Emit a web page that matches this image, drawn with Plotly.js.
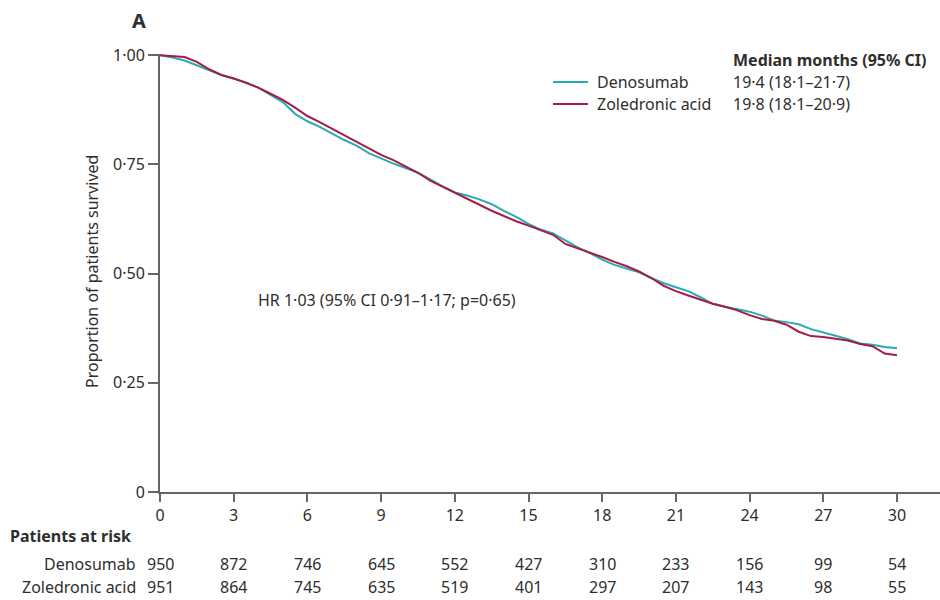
<!DOCTYPE html>
<html>
<head>
<meta charset="utf-8">
<script src="https://cdn.plot.ly/plotly-3.0.1.min.js"></script>
<style>html,body{margin:0;padding:0;background:#fff;}#chart{width:940px;height:600px;}</style>
</head>
<body>
<div id="chart"></div>
<script>
// Kaplan-Meier estimates (months, proportion surviving)
const months = [0,0.5,1,1.5,2,2.5,3,3.5,4,4.5,5,5.5,6,6.5,7,7.5,8,8.5,9,9.5,10,10.5,11,11.5,12,12.5,13,13.5,14,14.5,15,15.5,16,16.5,17,17.5,18,18.5,19,19.5,20,20.5,21,21.5,22,22.5,23,23.5,24,24.5,25,25.5,26,26.5,27,27.5,28,28.5,29,29.5,30];
const denosumab = [1.000,0.995,0.988,0.977,0.967,0.955,0.947,0.938,0.926,0.910,0.893,0.866,0.849,0.836,0.821,0.806,0.793,0.776,0.764,0.752,0.742,0.731,0.716,0.700,0.686,0.679,0.670,0.659,0.644,0.630,0.614,0.601,0.592,0.576,0.560,0.547,0.532,0.520,0.512,0.503,0.490,0.478,0.469,0.460,0.446,0.431,0.424,0.418,0.413,0.404,0.393,0.389,0.384,0.373,0.366,0.358,0.350,0.340,0.337,0.332,0.329];
const zoledronic = [1.000,0.998,0.996,0.985,0.968,0.955,0.947,0.937,0.926,0.912,0.898,0.880,0.861,0.847,0.832,0.818,0.803,0.788,0.772,0.760,0.745,0.731,0.713,0.699,0.686,0.672,0.658,0.644,0.632,0.620,0.610,0.600,0.589,0.568,0.558,0.549,0.538,0.527,0.517,0.505,0.490,0.472,0.460,0.450,0.440,0.431,0.424,0.416,0.405,0.396,0.392,0.383,0.367,0.357,0.355,0.351,0.347,0.339,0.334,0.317,0.313];

const xTicks = [0,3,6,9,12,15,18,21,24,27,30];
const yTickVals = [0,0.25,0.5,0.75,1];
const yTickText = ["0","0·25","0·50","0·75","1·00"];

const seriesNames = ["Denosumab","Zoledronic acid"];
const medians = ["19·4 (18·1–21·7)","19·8 (18·1–20·9)"];
const riskDeno = [950,872,746,645,552,427,310,233,156,99,54];
const riskZol = [951,864,745,635,519,401,297,207,143,98,55];

const hrText = "HR 1·03 (95% CI 0·91–1·17; p=0·65)";

const colDeno = "#2aaab6";
const colZol = "#a51c44";
const txt = "#2e2e2e";
const axisCol = "#666666";
const FONT = "Noto Sans, Open Sans, sans-serif";

const traces = [
  {x: months, y: denosumab, mode: "lines", line: {color: colDeno, width: 2, shape: "linear"}, name: seriesNames[0], showlegend: false},
  {x: months, y: zoledronic, mode: "lines", line: {color: colZol, width: 2, shape: "linear"}, name: seriesNames[1], showlegend: false}
];

const L = 160, R = 940, T = 54, B = 492;
const px = v => (v - L) / (R - L);
const py = v => (B - v) / (B - T);

const ann = [];
ann.push({xref:"paper", yref:"paper", x: px(130), y: py(20), xanchor:"left", yanchor:"middle", text:"<b>A</b>", showarrow:false, font:{size:20, color:txt, family:FONT}});
ann.push({xref:"paper", yref:"paper", x: px(92), y: py(272), xanchor:"center", yanchor:"middle", textangle:-90, text:"Proportion of patients survived", showarrow:false, font:{size:16, color:txt, family:FONT}});
ann.push({xref:"paper", yref:"paper", x: px(731), y: py(60), xanchor:"left", yanchor:"middle", text:"<b>Median months (95% CI)</b>", showarrow:false, font:{size:16, color:txt, family:FONT}});
const legY = [82, 104];
for (let i = 0; i < 2; i++) {
  ann.push({xref:"paper", yref:"paper", x: px(595), y: py(legY[i]), xanchor:"left", yanchor:"middle", text: seriesNames[i], showarrow:false, font:{size:16, color:txt, family:FONT}});
  ann.push({xref:"paper", yref:"paper", x: px(731), y: py(legY[i]), xanchor:"left", yanchor:"middle", text: medians[i], showarrow:false, font:{size:16, color:txt, family:FONT}});
}
ann.push({xref:"paper", yref:"paper", x: px(256), y: py(300), xanchor:"left", yanchor:"middle", text: hrText, showarrow:false, font:{size:16, color:txt, family:FONT}});
ann.push({xref:"paper", yref:"paper", x: px(8), y: py(536), xanchor:"left", yanchor:"middle", text:"<b>Patients at risk</b>", showarrow:false, font:{size:16, color:txt, family:FONT}});
const rowY = [564, 587];
const rows = [riskDeno, riskZol];
for (let i = 0; i < 2; i++) {
  ann.push({xref:"paper", yref:"paper", x: px(138), y: py(rowY[i]), xanchor:"right", yanchor:"middle", text: seriesNames[i], showarrow:false, font:{size:16, color:txt, family:FONT}});
  for (let j = 0; j < xTicks.length; j++) {
    ann.push({xref:"x", yref:"paper", x: xTicks[j], y: py(rowY[i]), xanchor:"center", yanchor:"middle", text: String(rows[i][j]), showarrow:false, font:{size:16, color:txt, family:FONT}});
  }
}

const shapes = [
  {type:"line", xref:"paper", yref:"paper", x0: px(553), x1: px(588), y0: py(legY[0]), y1: py(legY[0]), line:{color: colDeno, width: 2}},
  {type:"line", xref:"paper", yref:"paper", x0: px(553), x1: px(588), y0: py(legY[1]), y1: py(legY[1]), line:{color: colZol, width: 2}}
];

const layout = {
  width: 940, height: 600,
  margin: {l: L, r: 940 - R, t: T, b: 600 - B, pad: 0},
  paper_bgcolor: "#ffffff", plot_bgcolor: "#ffffff",
  font: {family: FONT, color: txt, size: 16},
  showlegend: false,
  xaxis: {
    range: [0, 31.75], tickvals: xTicks, ticktext: xTicks.map(String),
    showline: true, linecolor: axisCol, linewidth: 2, showgrid: false, zeroline: false,
    ticks: "outside", ticklen: 8, tickwidth: 2, tickcolor: axisCol,
    tickfont: {size: 16, color: txt, family: FONT}, fixedrange: true
  },
  yaxis: {
    range: [0, 1.003], tickvals: yTickVals, ticktext: yTickText,
    showline: true, linecolor: axisCol, linewidth: 2, showgrid: false, zeroline: false,
    ticks: "outside", ticklen: 10, tickwidth: 2, tickcolor: axisCol,
    tickfont: {size: 16, color: txt, family: FONT}, fixedrange: true
  },
  annotations: ann,
  shapes: shapes
};

Plotly.newPlot("chart", traces, layout, {displayModeBar: false, staticPlot: true});
</script>
</body>
</html>
